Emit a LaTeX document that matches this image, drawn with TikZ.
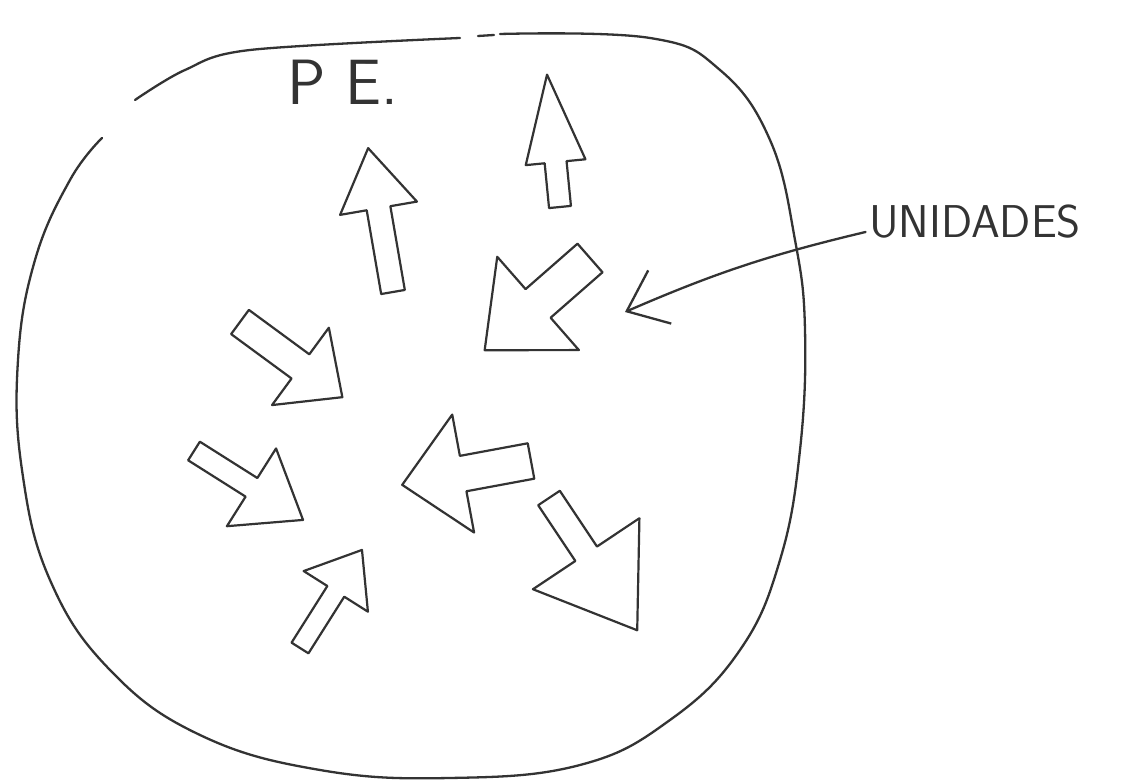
\documentclass[tikz,border=0pt]{standalone}
\usepackage{tikz}
\usetikzlibrary{arrows.meta}
\definecolor{penc}{HTML}{333333}

\begin{document}
\begin{tikzpicture}[x=1pt, y=1pt,
	every node/.style={text=penc, font=\sffamily},
	outline/.style={draw=penc, line width=2.3pt, line cap=round, line join=round},
	unitarrow/.style={draw=penc, line width=2.2pt, line join=round}]
	\fill[white] (0,0) rectangle (1144,784);
	\useasboundingbox (0,0) rectangle (1144,784);
	% the closed curve
	\draw[outline] plot[smooth, tension=0.55] coordinates {(135,684) (185,714) (250,734) (460,746)};
	\draw[outline] (478,748) -- (494,749);
	\draw[outline] plot[smooth, tension=0.7] coordinates {(500,750) (650,746) (720,714) (770,644) (795,544) (805,454) (800,334) (780,224) (740,134) (670,64) (580,19) (450,6) (320,14) (200,49) (110,114) (50,204) (22,314) (18,424) (35,524) (70,604) (102,646)};
	% labels
	\node (pe) at (343,702) {\fontsize{64}{64}\selectfont P E.};
	\node (units) at (975,562) {\fontsize{46}{46}\selectfont UNIDADES};
	\coordinate (ptr) at (625,472);
	\draw[outline, -{Straight Barb[length=36pt, width=58pt]}] ([yshift=-10pt]units.west) to[bend right=5] (ptr);
	% the units: tail x / tail y / angle / length / head length / head half width / shaft half width
	\foreach \x/\y/\a/\len/\hl/\hw/\sw in {
		560/577/95.6/133/88/30/11,
		393/492/99.8/146/61/39/12,
		590/526/221.2/140/71/62/19,
		240/462/-36.3/127/52/48/15,
		194/333/-32.3/129/61/46/11,
		531/323/190.5/131/62/60/18,
		549/286/-56.3/159/92/64/13,
		300/136/57.7/116/49/38/10}
	{
		\draw[unitarrow, shift={(\x,\y)}, rotate=\a] (0,-\sw) -- ({\len-\hl},-\sw) -- ({\len-\hl},-\hw) -- (\len,0) -- ({\len-\hl},\hw) -- ({\len-\hl},\sw) -- (0,\sw) -- cycle;
	}
\end{tikzpicture}
\end{document}
